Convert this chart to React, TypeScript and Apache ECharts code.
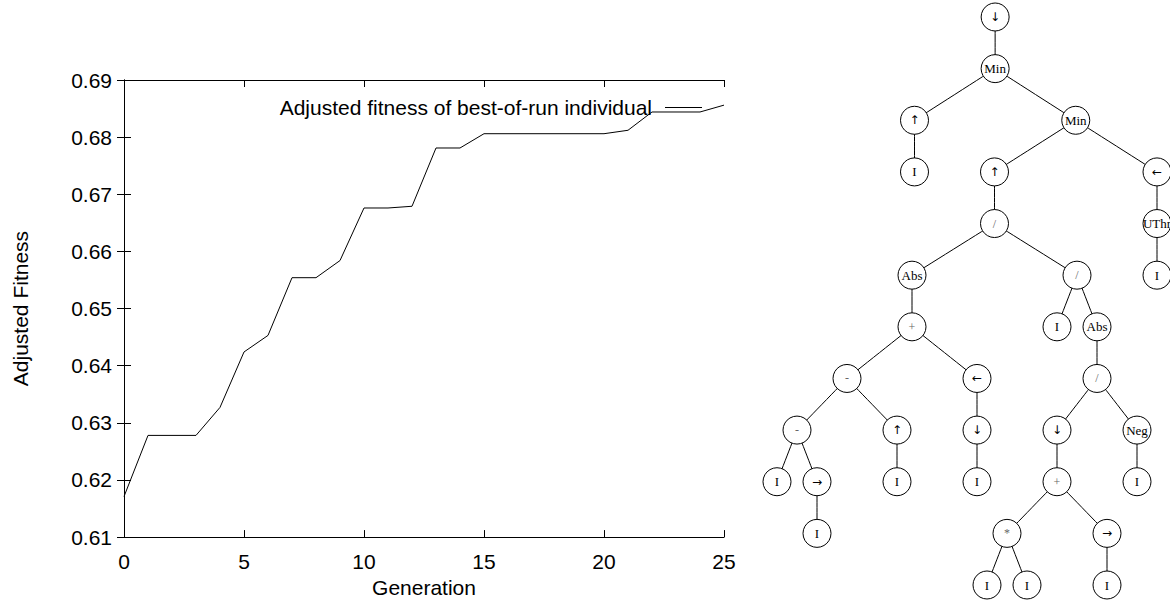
import React, { useEffect, useRef } from "react";
import * as echarts from "echarts";

const generations = [0, 1, 2, 3, 4, 5, 6, 7, 8, 9, 10, 11, 12, 13, 14, 15, 16, 17, 18, 19, 20, 21, 22, 23, 24, 25];
const fitness = [
  0.6171, 0.6278, 0.6278, 0.6278, 0.6327, 0.6424, 0.6453, 0.6554, 0.6554, 0.6584,
  0.6676, 0.6676, 0.6679, 0.6781, 0.6781, 0.6806, 0.6806, 0.6806, 0.6806, 0.6806,
  0.6806, 0.6812, 0.6844, 0.6844, 0.6844, 0.6856,
];
const xTicks = [0, 5, 10, 15, 20, 25];
const yTicks = [0.61, 0.62, 0.63, 0.64, 0.65, 0.66, 0.67, 0.68, 0.69];
const seriesName = "Adjusted fitness of best-of-run individual";

// Program tree of best-of-run individual (label, parent index)
const treeLabels = [
  "↓", "Min", "↑", "I", "Min", "↑", "/", "Abs", "+", "-", "-", "I", "→", "I", "↑", "I",
  "←", "↓", "I", "/", "I", "Abs", "/", "↓", "+", "*", "I", "I", "→", "I", "Neg", "I",
  "←", "UThr", "I",
];
const treeParents = [
  -1, 0, 1, 2, 1, 4, 5, 6, 7, 8, 9, 10, 10, 12, 9, 14,
  8, 16, 17, 6, 19, 19, 21, 22, 23, 24, 25, 25, 24, 28, 22, 30,
  4, 32, 33,
];

const ARROWS = ["↓", "↑", "←", "→"];
const OPS = ["/", "+", "-", "*"];

function nodeLabel(name: string) {
  if (ARROWS.includes(name)) {
    return { fontFamily: "DejaVu Sans", fontSize: 12, color: "#000" };
  }
  if (OPS.includes(name)) {
    return { fontFamily: "Liberation Serif", fontSize: 12, color: "#666" };
  }
  return { fontFamily: "Liberation Serif", fontSize: 13, color: "#000" };
}

function buildTree() {
  const nodes: any[] = treeLabels.map((l) => ({
    name: l,
    children: [] as any[],
    label: { position: "inside", ...nodeLabel(l) },
  }));
  treeParents.forEach((p, i) => {
    if (p >= 0) nodes[p].children.push(nodes[i]);
  });
  return nodes[0];
}

export default function App() {
  const ref = useRef<HTMLDivElement>(null);
  useEffect(() => {
    if (!ref.current) return;
    const chart = echarts.init(ref.current, undefined, { renderer: "svg" });
    const axisFont = { fontFamily: "Liberation Sans", fontSize: 21, color: "#000" };
    const line = { lineStyle: { color: "#000", width: 1 } };
    chart.setOption({
      animation: false,
      backgroundColor: "#fff",
      grid: { left: 124, right: 446, top: 80, bottom: 57 },
      legend: {
        data: [{ name: seriesName, icon: "path://M0,0H37V1H0Z" }],
        right: 468,
        top: 97,
        padding: 0,
        align: "right",
        itemWidth: 37,
        itemHeight: 14,
        symbolKeepAspect: true,
        itemStyle: { color: "#000" },
        textStyle: { ...axisFont, padding: [0, 8, 7, 0] },
        selectedMode: false,
      },
      xAxis: [
        {
          type: "value",
          min: 0,
          max: 25,
          interval: 5,
          position: "bottom",
          name: "Generation",
          nameLocation: "middle",
          nameGap: 33,
          nameTextStyle: { ...axisFont },
          axisLine: { show: true, ...line },
          axisTick: { show: true, inside: true, length: 7, ...line },
          axisLabel: { ...axisFont, margin: 14, formatter: (v: number) => (xTicks.includes(v) ? String(v) : "") },
          splitLine: { show: false },
        },
        {
          type: "value",
          min: 0,
          max: 25,
          interval: 5,
          position: "top",
          axisLine: { show: true, ...line },
          axisTick: { show: true, inside: true, length: 7, ...line },
          axisLabel: { show: false },
          splitLine: { show: false },
        },
      ],
      yAxis: [
        {
          type: "value",
          min: 0.61,
          max: 0.69,
          interval: 0.01,
          position: "left",
          name: "Adjusted Fitness",
          nameLocation: "middle",
          nameGap: 93,
          nameTextStyle: { ...axisFont },
          axisLine: { show: true, ...line },
          axisTick: { show: true, inside: true, length: 7, ...line },
          axisLabel: {
            ...axisFont,
            margin: 12,
            formatter: (v: number) => {
              const t = yTicks.find((y) => Math.abs(y - v) < 1e-6);
              return t !== undefined ? t.toFixed(2) : "";
            },
          },
          splitLine: { show: false },
        },
        {
          type: "value",
          min: 0.61,
          max: 0.69,
          interval: 0.01,
          position: "right",
          axisLine: { show: true, ...line },
          axisTick: { show: true, inside: true, length: 7, ...line },
          axisLabel: { show: false },
          splitLine: { show: false },
        },
      ],
      series: [
        {
          name: seriesName,
          type: "line",
          xAxisIndex: 0,
          yAxisIndex: 0,
          data: generations.map((g, i) => [g, fitness[i]]),
          symbol: "none",
          showSymbol: false,
          lineStyle: { color: "#000", width: 1 },
          itemStyle: { color: "#000" },
          silent: true,
        },
        {
          type: "tree",
          data: [buildTree()],
          orient: "TB",
          layout: "orthogonal",
          left: 737,
          right: -27,
          top: 17,
          bottom: 18,
          symbol: "circle",
          symbolSize: 28,
          edgeShape: "curve",
          expandAndCollapse: false,
          initialTreeDepth: -1,
          roam: false,
          silent: true,
          itemStyle: { color: "#fff", borderColor: "#000", borderWidth: 1 },
          lineStyle: { color: "#000", width: 1, curveness: 0 },
          label: { position: "inside", fontFamily: "Liberation Serif", fontSize: 13, color: "#000" },
          leaves: { label: { position: "inside" } },
          emphasis: { disabled: true },
        },
      ],
    });
    return () => chart.dispose();
  }, []);
  return (
    <div
      ref={ref}
      style={{ position: "absolute", left: 0, top: 0, width: 1170, height: 603 }}
    />
  );
}
